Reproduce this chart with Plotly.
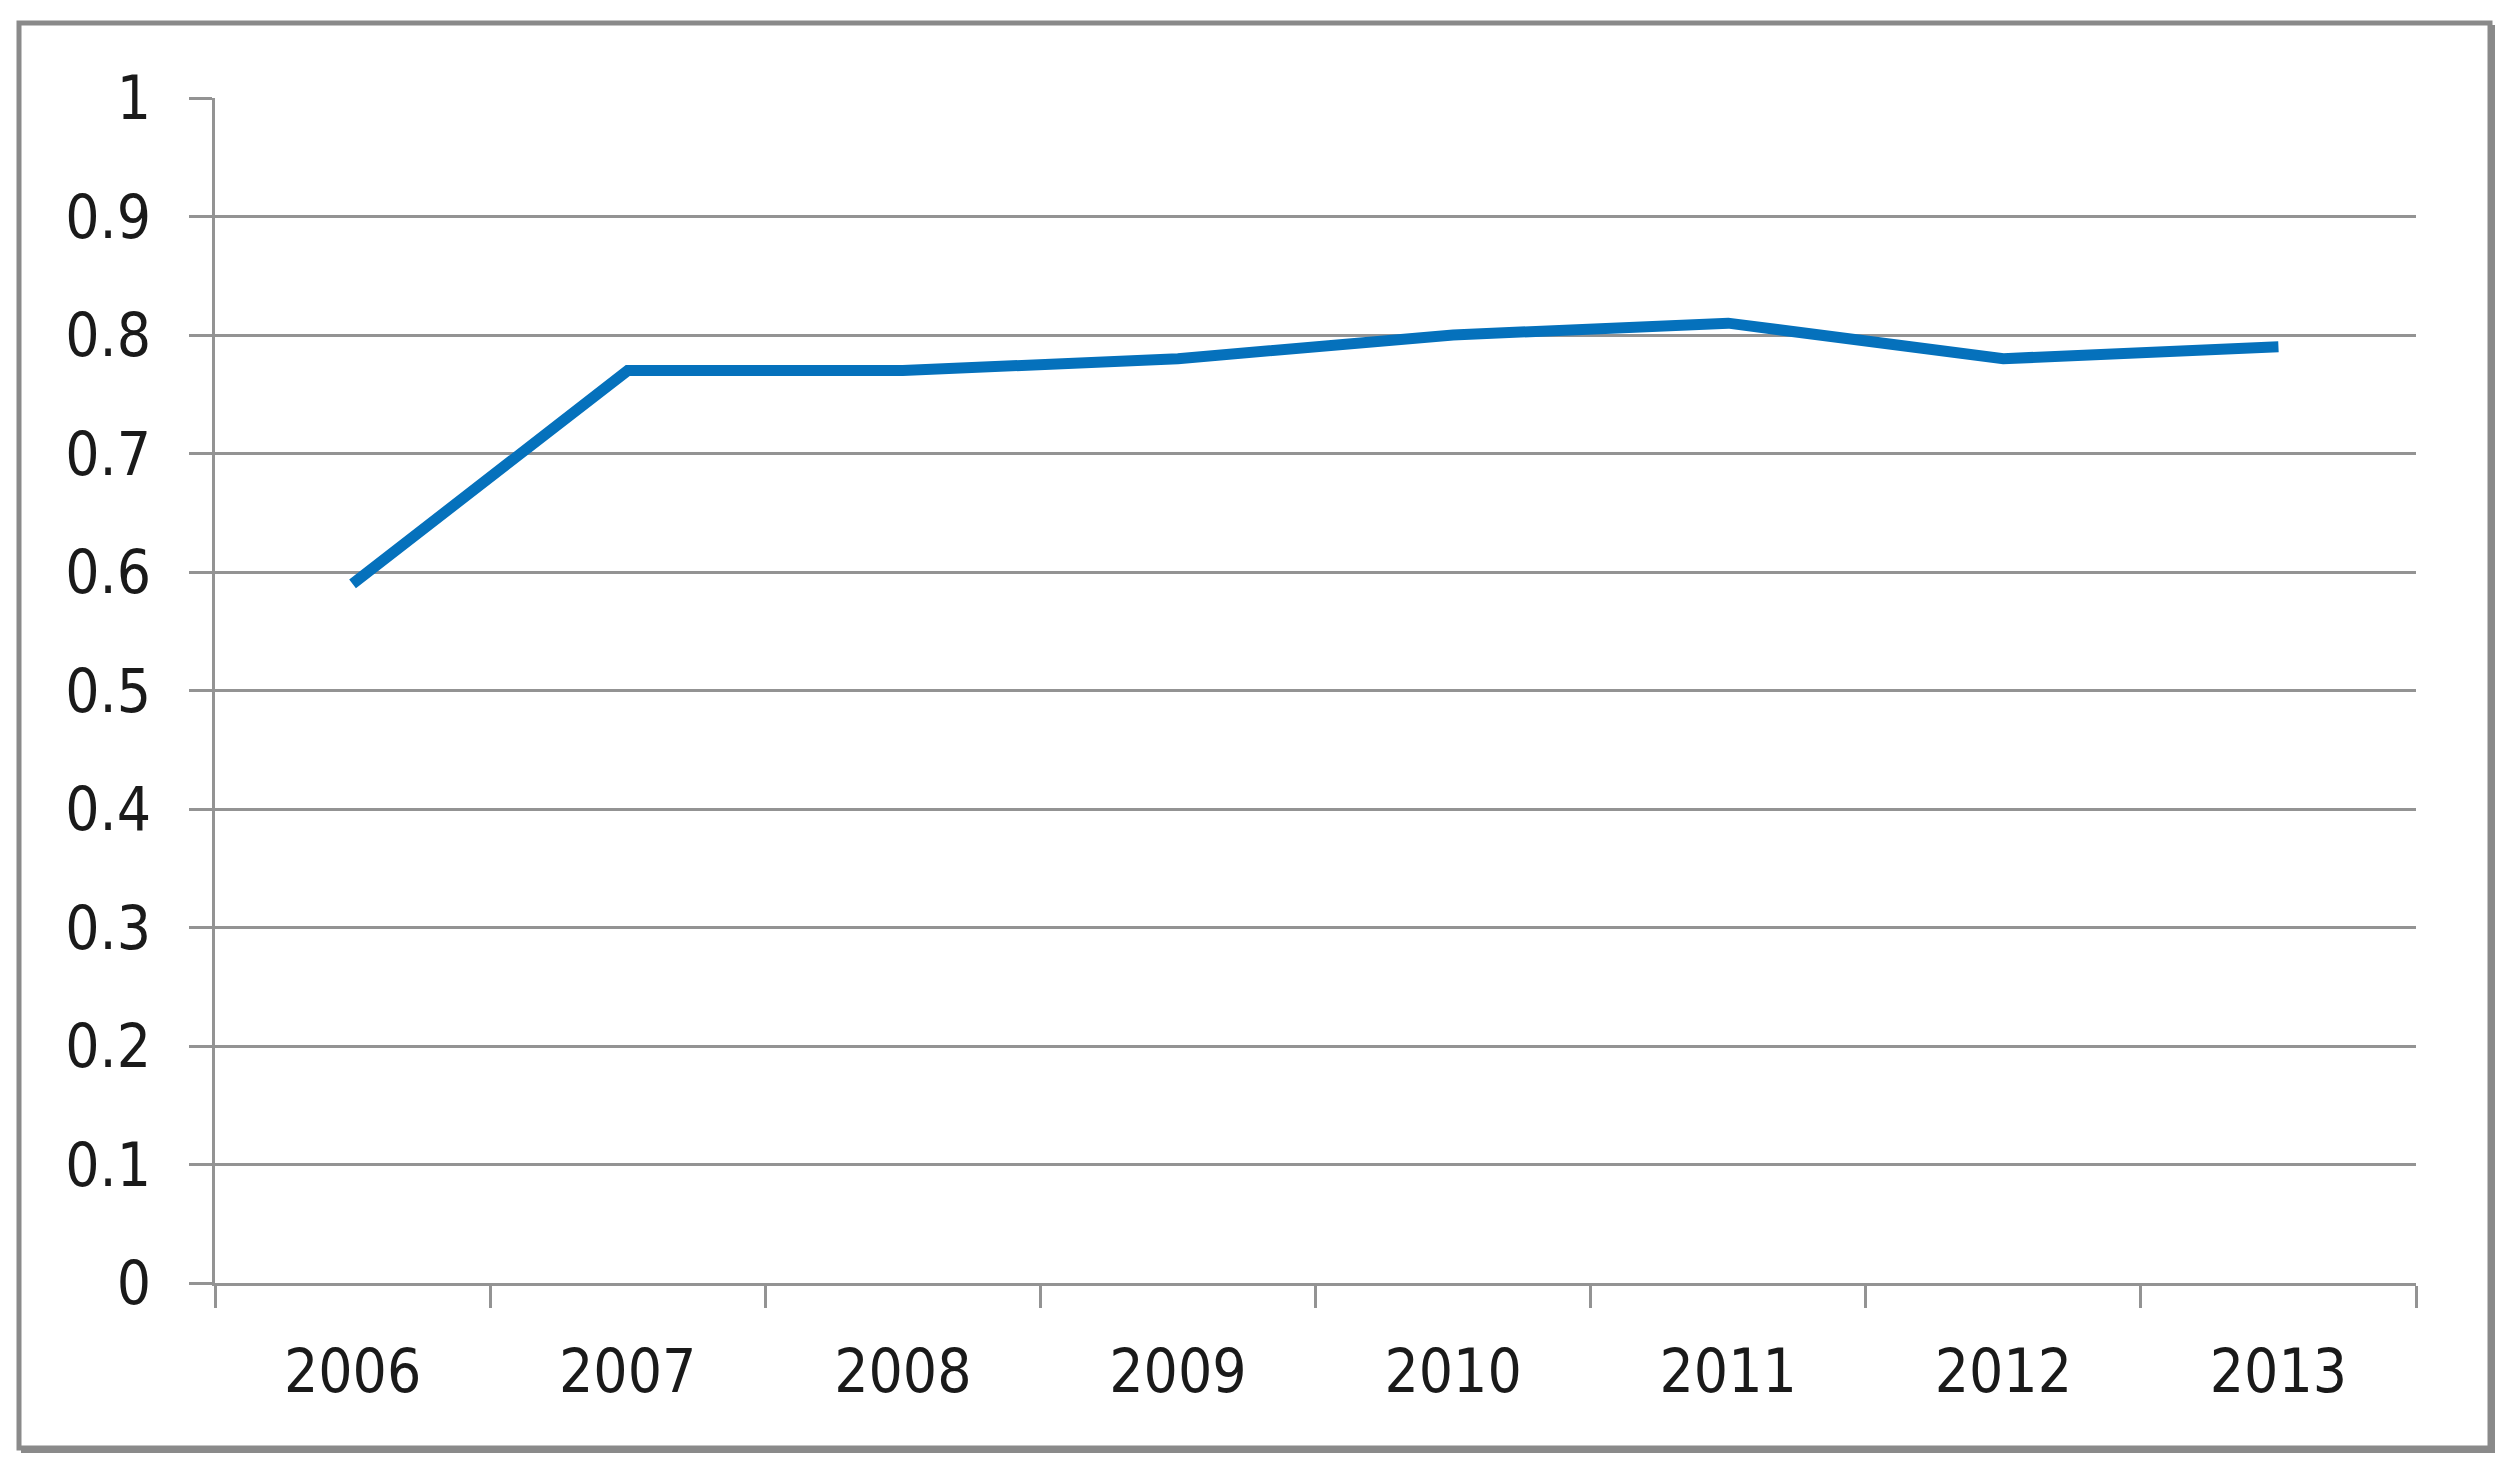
import plotly.graph_objects as go

years = ["2006", "2007", "2008", "2009", "2010", "2011", "2012", "2013"]
values = [0.59, 0.77, 0.77, 0.78, 0.80, 0.81, 0.78, 0.79]
y_ticks = [0, 0.1, 0.2, 0.3, 0.4, 0.5, 0.6, 0.7, 0.8, 0.9, 1]

# page is offset by the browser's default 8px body margin
OFF = 8
W, H = 2520 - OFF, 1480 - OFF
L, R, T, B = 215, 2416, 98, 1283   # plot area in page pixels
pw, ph = R - L, B - T

def px(x):
    return (x - L) / pw

def py(y):
    return (B - y) / ph

FONT = "Liberation Sans Narrow, DejaVu Sans Condensed, Open Sans, sans-serif"
GRID = "#939393"

fig = go.Figure()
fig.add_trace(go.Scatter(
    x=years, y=values, mode="lines",
    line=dict(color="#0571BC", width=11),
    showlegend=False, hoverinfo="skip",
))

fig.update_layout(
    width=W, height=H,
    margin=dict(l=L - OFF, r=2520 - R, t=T - OFF, b=1480 - B),
    paper_bgcolor="white", plot_bgcolor="white",
    font=dict(family=FONT, size=60, color="#1a1a1a"),
    showlegend=False,
)
fig.update_xaxes(
    type="category", range=[-0.5, 7.5],
    tickson="boundaries", ticks="outside", ticklen=22, tickwidth=3, tickcolor=GRID,
    showgrid=False, showline=True, linecolor=GRID, linewidth=3,
    ticklabelstandoff=34, fixedrange=True,
)
fig.update_yaxes(
    range=[0, 1], tickvals=y_ticks, ticktext=[f"{v:g}" for v in y_ticks],
    ticks="outside", ticklen=23, tickwidth=3, tickcolor=GRID,
    showgrid=True, gridcolor=GRID, gridwidth=3,
    showline=True, linecolor=GRID, linewidth=3,
    zeroline=False, ticklabelstandoff=26, fixedrange=True,
)

# outer chart border with shadow on right/bottom
bx0, by0, bx1, by1 = 19, 23, 2490, 1448
fig.add_shape(type="rect", xref="paper", yref="paper",
              x0=px(bx0), x1=px(bx1), y0=py(by1), y1=py(by0),
              line=dict(color="#8a8a8a", width=5), layer="below")
fig.add_shape(type="line", xref="paper", yref="paper",
              x0=px(bx1 + 3), x1=px(bx1 + 3), y0=py(by1 + 4), y1=py(by0 + 2),
              line=dict(color="#8a8a8a", width=4))
fig.add_shape(type="line", xref="paper", yref="paper",
              x0=px(bx0 + 2), x1=px(bx1 + 5), y0=py(by1 + 3), y1=py(by1 + 3),
              line=dict(color="#8a8a8a", width=4))

fig.write_html("out.html")
